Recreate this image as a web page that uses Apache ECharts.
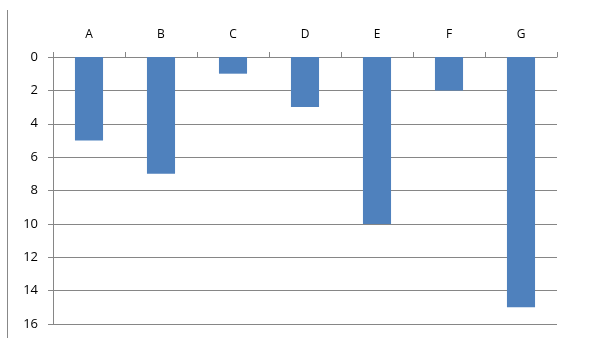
<!DOCTYPE html>
<html><head><meta charset="utf-8">
<script src="https://cdn.jsdelivr.net/npm/echarts@6/dist/echarts.min.js"></script>
<style>html,body{margin:0;padding:0;background:#fff}#c{width:591px;height:348px}</style>
</head><body><div id="c"></div>
<script>
const categories = ['A','B','C','D','E','F','G'];
const values = [5, 7, 1, 3, 10, 2, 15];
const yTicks = [0, 2, 4, 6, 8, 10, 12, 14, 16];

const chart = echarts.init(document.getElementById('c'), null, {renderer:'canvas'});
chart.setOption({
  animation: false,
  backgroundColor: '#fff',
  grid: {left: 53, top: 57, right: 34, bottom: 24, containLabel: false},
  graphic: [{type:'line', shape:{x1:7.5, y1:10, x2:7.5, y2:338}, style:{stroke:'#888', lineWidth:1}}],
  xAxis: {
    type: 'category', data: categories, position: 'top',
    axisLine: {show: true, lineStyle: {color: '#868686', width: 1}},
    axisTick: {show: true, length: 5, alignWithLabel: false, lineStyle: {color: '#868686'}},
    axisLabel: {color: '#000', fontSize: 12, fontFamily: '"Open Sans", Lato, sans-serif', margin: 16},
    splitLine: {show: false}
  },
  yAxis: {
    type: 'value', inverse: true, min: yTicks[0], max: yTicks[yTicks.length-1], interval: 2,
    axisLine: {show: true, lineStyle: {color: '#868686', width: 1}},
    axisTick: {show: true, length: 5, inside: false, lineStyle: {color: '#868686'}},
    axisLabel: {color: '#000', fontSize: 13, fontFamily: '"Open Sans", Lato, sans-serif', margin: 15},
    splitLine: {show: true, lineStyle: {color: '#868686', width: 1}}
  },
  series: [{type: 'bar', data: values, barWidth: '39%', itemStyle: {color: '#4F81BD'}}]
});
</script></body></html>
